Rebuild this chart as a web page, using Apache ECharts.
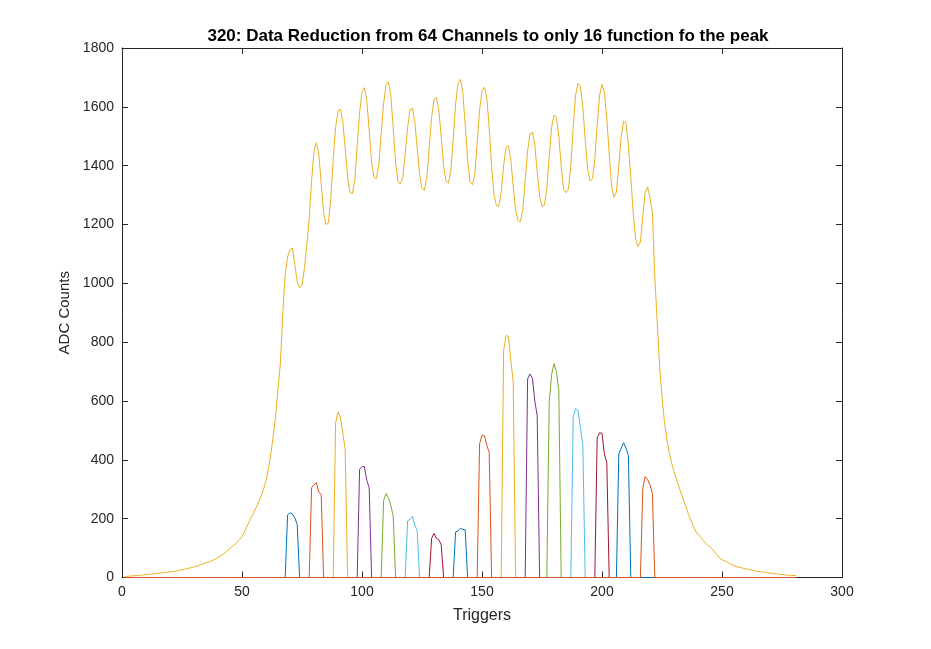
<!DOCTYPE html>
<html>
<head>
<meta charset="utf-8">
<title>Data Reduction</title>
<script src="https://cdn.jsdelivr.net/npm/echarts@6/dist/echarts.min.js"></script>
<style>
  html, body { margin: 0; padding: 0; background: #fff; }
  #chart { width: 931px; height: 649px; }
</style>
</head>
<body>
<div id="chart"></div>
<script>
// x axis tick labels
var xTicks = [0, 50, 100, 150, 200, 250, 300];
var yTicks = [0, 200, 400, 600, 800, 1000, 1200, 1400, 1600, 1800];

// summed signal of all 64 channels, trigger 1..281
var envelope = [
  3, 4, 5, 5, 6, 7, 7, 8, 9, 10,
  11, 12, 12, 13, 14, 15, 16, 17, 18, 19,
  20, 21, 23, 24, 26, 28, 30, 32, 34, 36,
  38, 41, 44, 47, 50, 52, 55, 59, 63, 68,
  73, 79, 85, 92, 99, 106, 113, 120, 129, 140,
  155, 172, 190, 208, 222, 240, 258, 277, 300, 330,
  370, 420, 480, 550, 640, 730, 900, 1030, 1090, 1115,
  1120, 1065, 1005, 985, 995, 1050, 1130, 1220, 1350, 1450,
  1478, 1440, 1340, 1240, 1200, 1205, 1290, 1420, 1530, 1585,
  1592, 1550, 1460, 1360, 1310, 1305, 1350, 1470, 1580, 1650,
  1665, 1620, 1520, 1410, 1360, 1357, 1400, 1510, 1610, 1675,
  1685, 1640, 1530, 1410, 1345, 1338, 1360, 1440, 1530, 1590,
  1595, 1550, 1460, 1370, 1322, 1317, 1360, 1460, 1565, 1625,
  1632, 1590, 1500, 1400, 1348, 1341, 1380, 1490, 1610, 1680,
  1693, 1650, 1540, 1420, 1345, 1335, 1370, 1480, 1590, 1655,
  1667, 1630, 1530, 1400, 1300, 1265, 1262, 1310, 1400, 1462,
  1468, 1420, 1330, 1250, 1213, 1210, 1250, 1350, 1450, 1508,
  1513, 1470, 1380, 1295, 1262, 1265, 1320, 1430, 1530, 1572,
  1565, 1500, 1400, 1320, 1308, 1320, 1400, 1530, 1640, 1680,
  1670, 1600, 1490, 1390, 1348, 1355, 1420, 1540, 1640, 1676,
  1650, 1560, 1440, 1330, 1292, 1310, 1400, 1500, 1552, 1545,
  1470, 1360, 1240, 1150, 1125, 1140, 1230, 1310, 1328, 1290,
  1240, 1020, 870, 720, 614, 530, 470, 425, 390, 360,
  335, 310, 285, 263, 240, 215, 195, 175, 158, 147,
  138, 128, 118, 110, 104, 96, 86, 76, 66, 60,
  57, 53, 48, 44, 40, 37, 35, 33, 31, 29,
  28, 26, 24, 22, 21, 20, 19, 17, 16, 15,
  14, 13, 12, 11, 10, 9, 8, 8, 7, 7,
  6
];

// the 16 kept channels: first trigger of each window and its values
var peakStart = [69, 79, 89, 99, 109, 119, 129, 139, 149, 159, 169, 178, 188, 198, 207, 217];
var peakValues = [
  [213, 220, 216, 203, 180],
  [305, 315, 322, 290, 283],
  [525, 563, 545, 490, 435],
  [368, 377, 377, 330, 305],
  [262, 285, 272, 245, 210],
  [192, 198, 209, 178, 160],
  [133, 150, 133, 128, 112],
  [155, 158, 167, 164, 162],
  [455, 483, 482, 450, 425],
  [770, 822, 820, 740, 665],
  [675, 692, 678, 600, 550],
  [595, 690, 727, 700, 635],
  [545, 574, 568, 510, 452],
  [475, 492, 490, 420, 390],
  [420, 440, 458, 440, 415],
  [305, 343, 333, 315, 285]
];

var colors = ['#0072BD', '#D95319', '#EDB120', '#7E2F8E', '#77AC30', '#4DBEEE', '#A2142F'];
var axisColor = '#262626';
var font = '"Liberation Sans", Arial, Helvetica, sans-serif';

var series = [];
peakStart.forEach(function (s, k) {
  var pts = [];
  for (var i = 0; i < envelope.length; i++) {
    var x = i + 1;
    var off = x - s;
    var v = (off >= 0 && off < peakValues[k].length) ? peakValues[k][off] : 0;
    pts.push([x, v]);
  }
  series.push({
    type: 'line',
    data: pts,
    showSymbol: false,
    clip: false,
    lineStyle: { width: 1, color: colors[k % 7] },
    itemStyle: { color: colors[k % 7] },
    z: 3
  });
});
series.push({
  type: 'line',
  data: envelope.map(function (v, i) { return [i + 1, v]; }),
  showSymbol: false,
  clip: false,
  lineStyle: { width: 1, color: colors[16 % 7] },
  itemStyle: { color: colors[16 % 7] },
  z: 4
});

function xAx(pos, labels) {
  return {
    type: 'value', position: pos, min: xTicks[0], max: xTicks[xTicks.length - 1], interval: 50,
    name: labels ? 'Triggers' : '', nameLocation: 'middle', nameGap: 30,
    nameTextStyle: { fontSize: 16, color: axisColor, fontFamily: font },
    axisLine: { show: true, onZero: false, lineStyle: { color: axisColor, width: 1 } },
    axisTick: { show: true, inside: true, length: 6, lineStyle: { color: axisColor } },
    axisLabel: { show: labels, fontSize: 14, color: axisColor, margin: 8, fontFamily: font },
    splitLine: { show: false },
    z: 1
  };
}
function yAx(pos, labels) {
  return {
    type: 'value', position: pos, min: yTicks[0], max: yTicks[yTicks.length - 1], interval: 200,
    name: labels ? 'ADC Counts' : '', nameLocation: 'middle', nameGap: 35,
    nameTextStyle: { fontSize: 15, color: axisColor, fontFamily: font },
    axisLine: { show: true, onZero: false, lineStyle: { color: axisColor, width: 1 } },
    axisTick: { show: true, inside: true, length: 6, lineStyle: { color: axisColor } },
    axisLabel: {
      show: labels, fontSize: 14, color: axisColor, margin: 8, fontFamily: font,
      formatter: function (v) { return String(v); }
    },
    splitLine: { show: false },
    z: 1
  };
}

var chart = echarts.init(document.getElementById('chart'));
chart.setOption({
  animation: false,
  backgroundColor: '#fff',
  title: {
    text: '320: Data Reduction from 64 Channels to only 16 function fo the peak',
    left: 483, top: 23, textAlign: 'center',
    textStyle: { fontSize: 17, fontWeight: 'bold', color: '#000', fontFamily: font }
  },
  grid: { left: 122, top: 48, right: 89, bottom: 71.5 },
  xAxis: [xAx('bottom', true), xAx('top', false)],
  yAxis: [yAx('left', true), yAx('right', false)],
  series: series
});
</script>
</body>
</html>
